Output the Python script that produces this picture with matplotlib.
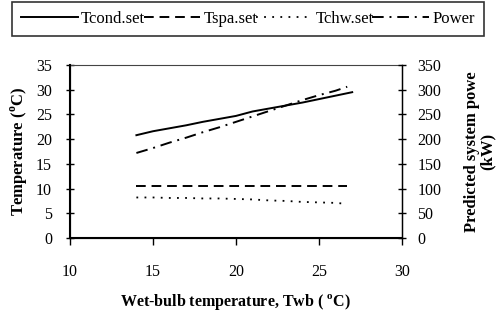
import matplotlib
matplotlib.use("Agg")
import matplotlib.pyplot as plt
from matplotlib.lines import Line2D

plt.rcParams['font.family'] = ['Liberation Serif', 'DejaVu Serif']
plt.rcParams['mathtext.fontset'] = 'custom'
plt.rcParams['mathtext.rm'] = 'Liberation Serif'
plt.rcParams['mathtext.bf'] = 'Liberation Serif:bold'

# Data
twb_cond = [14, 15, 16, 17, 18, 19, 20, 21, 22, 23, 24, 25, 26, 27]
tcond_set = [20.8, 21.6, 22.2, 22.8, 23.5, 24.1, 24.7, 25.6, 26.2, 26.8, 27.4, 28.1, 28.8, 29.5]
twb_flat = [14, 15, 16, 17, 18, 19, 20, 21, 22, 23, 24, 25, 26, 26.7]
tspa_set = [10.5, 10.5, 10.5, 10.5, 10.5, 10.5, 10.5, 10.5, 10.5, 10.5, 10.5, 10.5, 10.5, 10.5]
tchw_set = [8.2, 8.2, 8.1, 8.1, 8.0, 8.0, 7.9, 7.8, 7.6, 7.5, 7.3, 7.2, 7.1, 6.9]
twb_power = [14, 15, 16, 17, 18, 19, 20, 21, 22, 23, 24, 25, 26, 26.7]
power = [172, 182, 193, 203, 214, 224, 235, 246, 257, 268, 279, 289, 298, 306]

xticks = [10, 15, 20, 25, 30]
yticks_left = [0, 5, 10, 15, 20, 25, 30, 35]
yticks_right = [0, 50, 100, 150, 200, 250, 300, 350]

ls_dash = (0, (5, 3))
ls_dot = (0, (1, 3.5))
ls_dashdot = (0, (6, 3, 1, 3))

fig = plt.figure(figsize=(4.96, 3.17), dpi=100)
ax = fig.add_axes([70/496, 1-238/317, (402-70)/496, (238-65)/317])
ax2 = ax.twinx()

ax.plot(twb_cond, tcond_set, color='black', lw=1.4, ls='-')
ax.plot(twb_flat, tspa_set, color='black', lw=1.4, ls=ls_dash)
ax.plot(twb_flat, tchw_set, color='black', lw=1.3, ls=ls_dot)
ax2.plot(twb_power, power, color='black', lw=1.4, ls=ls_dashdot)

ax.set_xlim(10, 30)
ax.set_ylim(0, 35)
ax2.set_ylim(0, 350)
ax.set_xticks(xticks)
ax.set_yticks(yticks_left)
ax2.set_yticks(yticks_right)

for a in (ax, ax2):
    for s in a.spines.values():
        s.set_color('black')
ax.spines['bottom'].set_linewidth(1.5)
ax.spines['left'].set_linewidth(1.5)
ax.spines['top'].set_linewidth(0.8)
ax.spines['top'].set_color('#444444')
ax2.spines['right'].set_linewidth(1.0)
ax2.spines['top'].set_visible(False)

ax.tick_params(axis='x', direction='out', length=5, width=1, labelsize=11.5, pad=14)
ax.tick_params(axis='y', direction='inout', length=6, width=1, labelsize=11.5, pad=10)
ax2.tick_params(axis='y', direction='inout', length=6, width=1, labelsize=11.5, pad=8)

ax.set_xlabel(r'Wet-bulb temperature, Twb ( $^{\mathbf{o}}$C)', fontsize=11.5, fontweight='bold', labelpad=8)
ax.set_ylabel(r'Temperature ($^{\mathbf{o}}$C)', fontsize=12, fontweight='bold', labelpad=4)
ax2.set_ylabel('Predicted system powe\n(kW)', fontsize=12, fontweight='bold', labelpad=16,
               linespacing=1.0)

handles = [
    Line2D([], [], color='black', lw=1.4, ls='-'),
    Line2D([], [], color='black', lw=1.4, ls=ls_dash),
    Line2D([], [], color='black', lw=1.3, ls=ls_dot),
    Line2D([], [], color='black', lw=1.4, ls=ls_dashdot),
]
labels = ['Tcond.set', 'Tspa.set', 'Tchw.set', 'Power']
leg = fig.legend(handles, labels, loc='upper left', bbox_to_anchor=(12/496, 1-2/317, (484-12)/496, 0),
                 ncol=4, mode='expand', frameon=True, fancybox=False, fontsize=12,
                 handlelength=3.4, handletextpad=0.2, columnspacing=0.3, borderpad=0.55,
                 borderaxespad=0)
leg.get_frame().set_edgecolor('black')
leg.get_frame().set_linewidth(1.2)

fig.savefig('out.png', dpi=100)
